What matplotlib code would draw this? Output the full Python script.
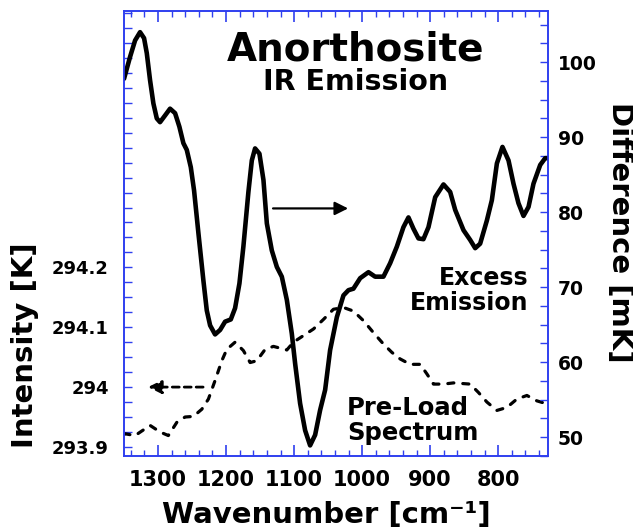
import matplotlib
matplotlib.use("Agg")
import matplotlib.pyplot as plt
from matplotlib.ticker import MultipleLocator, FuncFormatter

plt.rcParams['font.family'] = ['DejaVu Sans']
plt.rcParams['font.weight'] = 'bold'

# excess emission (right axis, mK)
wn_diff = [1350.0, 1341.2, 1333.8, 1326.5, 1320.6, 1316.6, 1311.8, 1306.9, 1301.9, 1297.1,
           1289.7, 1282.4, 1275.0, 1268.7, 1262.8, 1257.8, 1251.9, 1247.1, 1240.7, 1233.4,
           1228.4, 1223.5, 1216.2, 1208.8, 1201.5, 1193.1, 1186.8, 1180.4, 1174.6, 1167.2,
           1162.2, 1157.4, 1151.0, 1145.1, 1140.1, 1132.8, 1125.4, 1118.1, 1110.7, 1103.4,
           1098.5, 1091.2, 1083.8, 1076.5, 1069.1, 1061.8, 1054.4, 1047.1, 1037.2, 1027.5,
           1020.1, 1012.8, 1002.9, 990.7, 980.9, 968.7, 958.8, 949.0, 939.3, 931.9,
           924.6, 917.2, 909.9, 902.5, 892.6, 880.4, 870.6, 863.2, 851.0, 841.2,
           833.8, 826.5, 816.6, 809.3, 801.9, 793.7, 784.8, 777.5, 770.2, 762.8,
           755.4, 748.1, 738.2, 730.9, 726.0]
diff_mk = [97.8, 100.7, 102.9, 104.0, 103.2, 101.2, 97.6, 94.5, 92.5, 92.0,
           92.9, 93.8, 93.2, 91.4, 89.2, 88.3, 86.0, 82.9, 77.2, 70.9,
           66.9, 64.9, 63.7, 64.3, 65.4, 65.7, 67.2, 70.5, 75.4, 82.7,
           86.9, 88.5, 87.8, 84.3, 78.5, 74.9, 72.7, 71.4, 68.3, 63.8,
           59.8, 54.5, 50.9, 48.9, 50.3, 53.6, 56.3, 61.6, 66.0, 68.9,
           69.6, 69.8, 71.2, 72.0, 71.4, 71.4, 73.2, 75.4, 78.0, 79.3,
           77.8, 76.5, 76.4, 78.0, 82.0, 83.7, 82.7, 80.3, 77.6, 76.3,
           75.2, 75.8, 78.9, 81.6, 86.5, 88.7, 86.9, 83.8, 81.2, 79.5,
           80.7, 83.8, 86.3, 87.2, 87.2]

# pre-load spectrum (left axis, K)
wn_pre = [1350.0, 1348.5, 1333.8, 1311.8, 1297.1, 1284.9, 1272.5, 1260.3, 1248.1, 1235.7,
          1226.0, 1216.2, 1206.3, 1199.0, 1186.8, 1174.6, 1164.7, 1154.9, 1142.6, 1130.4,
          1110.7, 1101.0, 1086.3, 1071.6, 1056.9, 1042.2, 1027.5, 1012.8, 998.1, 983.4,
          968.7, 956.3, 944.1, 929.4, 914.7, 904.8, 895.1, 880.4, 865.7, 841.2,
          829.0, 816.6, 801.9, 787.2, 772.5, 757.8, 743.1, 728.4]
pre_k = [293.921, 293.922, 293.919, 293.936, 293.925, 293.919, 293.941, 293.950, 293.951, 293.963,
         293.980, 294.011, 294.044, 294.063, 294.075, 294.061, 294.041, 294.044, 294.063, 294.068,
         294.062, 294.075, 294.086, 294.097, 294.113, 294.130, 294.133, 294.127, 294.111, 294.091,
         294.072, 294.058, 294.047, 294.038, 294.038, 294.022, 294.005, 294.005, 294.007, 294.005,
         293.991, 293.975, 293.961, 293.966, 293.980, 293.986, 293.977, 293.972]

left_labels = [293.9, 294.0, 294.1, 294.2]
blue = '#2f3fef'

fig = plt.figure(figsize=(6.33, 5.32), dpi=100)
ax = fig.add_axes([0.196, 0.143, 0.670, 0.836])
ax2 = ax.twinx()

ax.plot(wn_pre, pre_k, color='black', lw=2.3, ls=(0, (1.9, 2.8)), dash_capstyle='round')
ax2.plot(wn_diff, diff_mk, color='black', lw=3.3, solid_capstyle='round',
         solid_joinstyle='round')

ax.set_xlim(1350, 726.5)
ax.set_ylim(293.885, 294.628)
ax2.set_ylim(47.5, 106.8)

ax.xaxis.set_major_locator(MultipleLocator(100))
ax.xaxis.set_minor_locator(MultipleLocator(20))
ax.yaxis.set_major_locator(MultipleLocator(0.1))
ax.yaxis.set_minor_locator(MultipleLocator(0.025))
ax2.yaxis.set_major_locator(MultipleLocator(10))
ax2.yaxis.set_minor_locator(MultipleLocator(2.5))


def left_fmt(v, pos):
    for lab in left_labels:
        if abs(v - lab) < 1e-6:
            return '%g' % lab
    return ''


ax.yaxis.set_major_formatter(FuncFormatter(left_fmt))

for a in (ax, ax2):
    for sp in a.spines.values():
        sp.set_color(blue)
        sp.set_linewidth(1.2)

ax.tick_params(axis='x', which='both', direction='in', color=blue, top=True,
               labelsize=15, pad=10)
ax.tick_params(axis='x', which='major', length=8, width=1.2)
ax.tick_params(axis='x', which='minor', length=4.5, width=1.0)
ax.tick_params(axis='y', which='both', direction='in', color=blue, length=6,
               width=1.0, labelsize=13, pad=11)
ax2.tick_params(axis='y', which='both', direction='in', color=blue, length=6,
                width=1.0, labelsize=13.5, pad=7)

ax.set_xlabel('Wavenumber [cm\u207b\u00b9]', fontsize=21, fontweight='bold', va='baseline')
ax.xaxis.set_label_coords(0.476, -0.151)
ax.set_ylabel('Intensity [K]', fontsize=21, fontweight='bold', va='center', ha='center')
ax.yaxis.set_label_coords(-0.233, 0.25)
ax2.set_ylabel('Difference [mK]', fontsize=21, fontweight='bold', rotation=-90,
               va='center', ha='center')
ax2.yaxis.set_label_coords(1.170, 0.503)

ax.text(0.547, 0.890, 'Anorthosite', transform=ax.transAxes, ha='center', va='baseline',
        fontsize=28, fontweight='bold')
ax.text(0.547, 0.822, 'IR Emission', transform=ax.transAxes, ha='center', va='baseline',
        fontsize=20.5, fontweight='bold')
ax.text(0.953, 0.384, 'Excess', transform=ax.transAxes, ha='right', va='baseline',
        fontsize=17, fontweight='bold')
ax.text(0.953, 0.328, 'Emission', transform=ax.transAxes, ha='right', va='baseline',
        fontsize=17, fontweight='bold')
ax.text(0.526, 0.092, 'Pre-Load', transform=ax.transAxes, ha='left', va='baseline',
        fontsize=17.5, fontweight='bold')
ax.text(0.526, 0.036, 'Spectrum', transform=ax.transAxes, ha='left', va='baseline',
        fontsize=17.5, fontweight='bold')

ax2.annotate('', xy=(1020.6, 80.5), xytext=(1131, 80.5),
             arrowprops=dict(arrowstyle='-|>', color='black', lw=1.6,
                             mutation_scale=20, shrinkA=0, shrinkB=0))
ax.annotate('', xy=(1314.7, 294.0), xytext=(1233.8, 294.0),
            arrowprops=dict(arrowstyle='-|>', color='black', lw=2.0, ls=(0, (2.5, 1.8)),
                            mutation_scale=20, shrinkA=0, shrinkB=0))

fig.savefig('out.png', dpi=100)
